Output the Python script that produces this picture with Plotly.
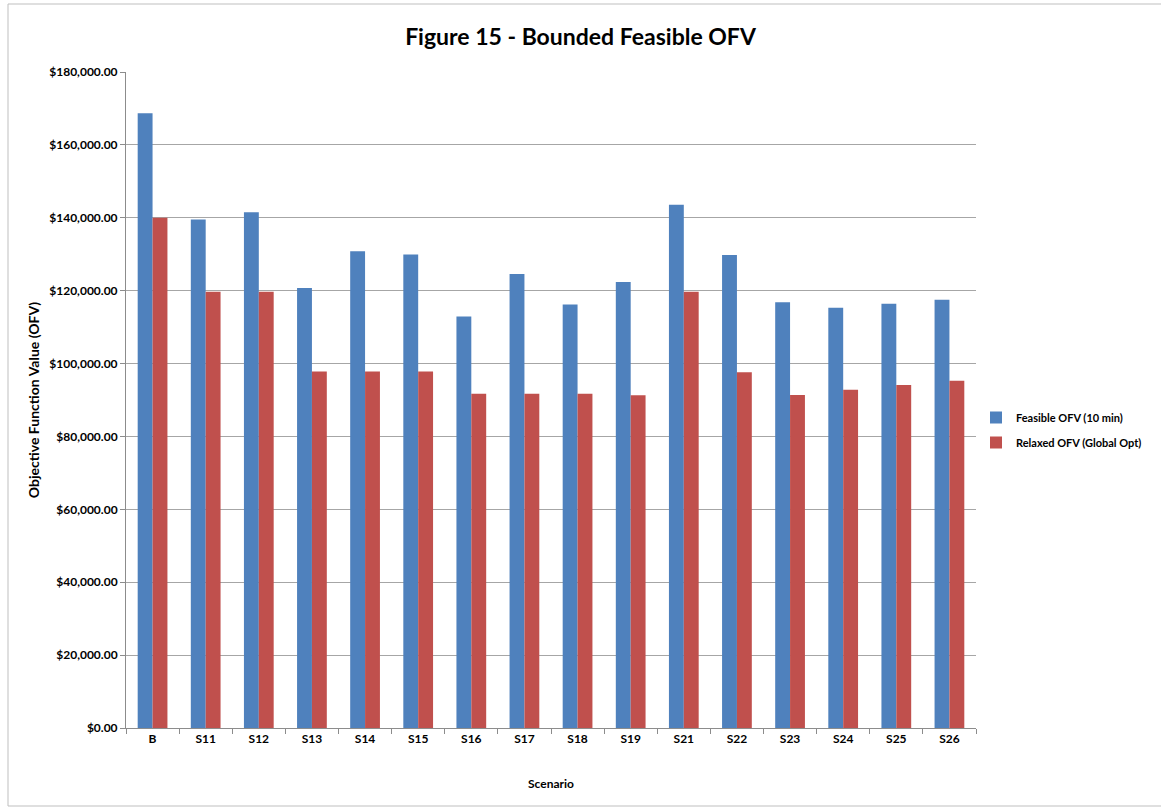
import plotly.graph_objects as go

scenarios = ["B", "S11", "S12", "S13", "S14", "S15", "S16", "S17", "S18", "S19",
             "S21", "S22", "S23", "S24", "S25", "S26"]
feasible = [168700, 139500, 141500, 120700, 130800, 129900, 112900, 124600, 116200,
            122400, 143600, 129800, 116800, 115300, 116400, 117500]
relaxed = [140000, 119700, 119700, 97800, 97800, 97800, 91700, 91700, 91700,
           91300, 119700, 97600, 91400, 92800, 94100, 95300]
y_ticks = list(range(0, 180001, 20000))
y_tick_text = [f"${v:,.2f}" for v in y_ticks]

FONT = "Lato"

fig = go.Figure()
fig.add_trace(go.Bar(name="Feasible OFV (10 min)", x=scenarios, y=feasible, legendgroup="a",
                     marker=dict(color="#4F81BD", line=dict(width=0))))
fig.add_trace(go.Bar(name="Relaxed OFV (Global Opt)", x=scenarios, y=relaxed, legendgroup="b",
                     marker=dict(color="#C0504D", line=dict(width=0))))

fig.update_layout(
    width=1161, height=809,
    margin=dict(l=126, r=185, t=72, b=81),
    paper_bgcolor="white", plot_bgcolor="white",
    barmode="group", bargap=0.44, bargroupgap=0,
    font=dict(family=FONT, size=12, color="black"),
    title=dict(text="<b>Figure 15 - Bounded Feasible OFV</b>", x=0.5, xanchor="center",
               y=1 - 37 / 809, yanchor="middle", font=dict(family=FONT, size=23, color="black")),
    legend=dict(x=1.0, y=(728 - 430) / 656, xanchor="left", yanchor="middle",
                font=dict(family=FONT, size=11, color="black", weight="bold"),
                tracegroupgap=6, itemwidth=30, bgcolor="rgba(0,0,0,0)"),
    showlegend=True,
)
fig.update_xaxes(
    title=dict(text="<b>Scenario</b>", font=dict(family=FONT, size=12), standoff=34),
    tickfont=dict(family=FONT, size=12, weight="bold"),
    showline=True, linecolor="#8c8c8c", linewidth=1,
    ticks="outside", ticklen=5, tickcolor="#8c8c8c", tickson="boundaries",
    showgrid=False,
)
fig.update_yaxes(
    title=dict(text="<b>Objective Function Value (OFV)</b>", font=dict(family=FONT, size=14), standoff=6),
    range=[0, 180000], tickvals=y_ticks, ticktext=y_tick_text,
    tickfont=dict(family=FONT, size=12, weight="bold"),
    showline=True, linecolor="#8c8c8c", linewidth=1,
    ticks="outside", ticklen=5, tickcolor="#8c8c8c",
    showgrid=True, gridcolor="#a6a6a6", gridwidth=1,
    zeroline=False,
)
# outer chart frame
fig.add_shape(type="rect", xref="paper", yref="paper",
              x0=(8 - 126) / 850, x1=(1180 - 126) / 850,
              y0=(728 - 806) / 656, y1=(728 - 4) / 656,
              line=dict(color="#bfbfbf", width=1), fillcolor="rgba(0,0,0,0)", layer="below")

fig.write_html("out.html", config={"displayModeBar": False},
               post_script="document.body.style.margin='0';document.body.style.overflow='hidden';")
